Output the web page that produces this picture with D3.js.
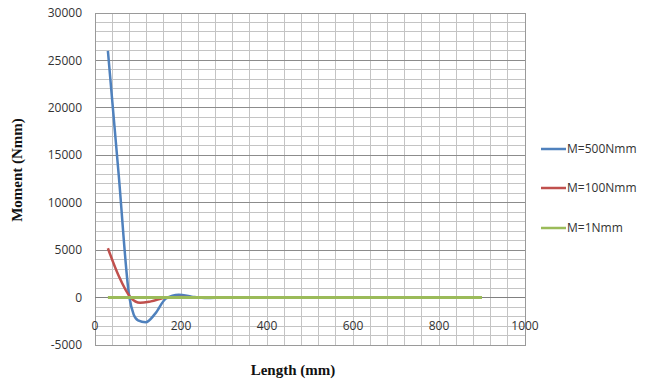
<!DOCTYPE html>
<html><head><meta charset="utf-8">
<script src="https://cdn.jsdelivr.net/npm/d3@7/dist/d3.min.js"></script>
<style>body{margin:0;background:#fff}svg{display:block}</style>
</head><body>
<svg id="c" width="670" height="385"></svg>
<script>
const seriesNames = ["M=500Nmm", "M=100Nmm", "M=1Nmm"];
const seriesColors = ["#4F81BD", "#C0504D", "#9BBB59"];
const m500x = [30, 55, 80, 90, 100, 118, 140, 165, 195, 225, 260, 300, 400, 500, 600, 700, 800, 900];
const m500y = [26000, 13000, 0, -1800, -2400, -2600, -1700, -100, 300, 100, -50, 0, 0, 0, 0, 0, 0, 0];
const m100x = [30, 55, 83, 105, 130, 167, 200, 250, 300, 400, 500, 600, 700, 800, 900];
const m100y = [5200, 2300, 0, -550, -400, 0, 50, 0, 0, 0, 0, 0, 0, 0, 0];
const m1x = [30, 100, 200, 300, 400, 500, 600, 700, 800, 900];
const m1y = [0, 0, 0, 0, 0, 0, 0, 0, 0, 0];
const xTicks = [0, 200, 400, 600, 800, 1000];
const yTicks = [-5000, 0, 5000, 10000, 15000, 20000, 25000, 30000];

const svg = d3.select("#c");
const L = 95, R = 525, T = 13, B = 345;
const x = d3.scaleLinear().domain([0, 1000]).range([L, R]);
const y = d3.scaleLinear().domain([-5000, 30000]).range([B, T]);

const g = svg.append("g");
g.selectAll(".vx").data(d3.range(0, 1001, 40)).enter().append("line")
  .attr("x1", d => x(d)).attr("x2", d => x(d)).attr("y1", T).attr("y2", B)
  .attr("stroke", "#c4c4c4").attr("stroke-width", 1).attr("shape-rendering", "crispEdges");
g.selectAll(".hy").data(d3.range(-5000, 30001, 1000)).enter().append("line")
  .attr("y1", d => y(d)).attr("y2", d => y(d)).attr("x1", L).attr("x2", R)
  .attr("stroke", d => d % 5000 === 0 ? "#8c8c8c" : "#c4c4c4").attr("stroke-width", 1)
  .attr("shape-rendering", "crispEdges");
g.append("rect").attr("x", L).attr("y", T).attr("width", R - L).attr("height", B - T)
  .attr("fill", "none").attr("stroke", "#9a9a9a").attr("shape-rendering", "crispEdges");
g.append("line").attr("x1", L).attr("x2", R).attr("y1", y(0)).attr("y2", y(0))
  .attr("stroke", "#808080").attr("shape-rendering", "crispEdges");

g.selectAll(".yl").data(yTicks).enter().append("text")
  .attr("x", 82).attr("y", d => y(d)).attr("dy", "0.35em").attr("text-anchor", "end")
  .attr("font-family", "Open Sans, Liberation Sans, sans-serif").attr("font-size", 12)
  .attr("fill", "#333").text(d => d);
g.selectAll(".xl").data(xTicks).enter().append("text")
  .attr("x", d => x(d)).attr("y", y(0) + 28).attr("dy", "0.35em").attr("text-anchor", "middle")
  .attr("font-family", "Open Sans, Liberation Sans, sans-serif").attr("font-size", 12)
  .attr("fill", "#333").text(d => d);

svg.append("text").attr("transform", `translate(22,170) rotate(-90)`)
  .attr("text-anchor", "middle").attr("font-family", "Liberation Serif, serif")
  .attr("font-weight", "bold").attr("font-size", 15).attr("fill", "#111").text("Moment (Nmm)");
svg.append("text").attr("x", 293).attr("y", 375).attr("text-anchor", "middle")
  .attr("font-family", "Liberation Serif, serif").attr("font-weight", "bold")
  .attr("font-size", 15).attr("fill", "#111").text("Length (mm)");

const line = d3.line().x(d => x(d[0])).y(d => y(d[1])).curve(d3.curveMonotoneX);
const series = [d3.zip(m500x, m500y), d3.zip(m100x, m100y), d3.zip(m1x, m1y)];
series.forEach((s, i) => {
  svg.append("path").datum(s).attr("d", line).attr("fill", "none")
    .attr("stroke", seriesColors[i]).attr("stroke-width", i === 2 ? 3 : 2.5)
    .attr("stroke-linejoin", "round");
});

const ly = [149, 188, 228];
seriesNames.forEach((n, i) => {
  svg.append("line").attr("x1", 541).attr("x2", 566).attr("y1", ly[i]).attr("y2", ly[i])
    .attr("stroke", seriesColors[i]).attr("stroke-width", 2.5);
  svg.append("text").attr("x", 567).attr("y", ly[i]).attr("dy", "0.35em")
    .attr("font-family", "Open Sans, Liberation Sans, sans-serif").attr("font-size", 12)
    .attr("fill", "#333").text(n);
});
</script>
</body></html>
